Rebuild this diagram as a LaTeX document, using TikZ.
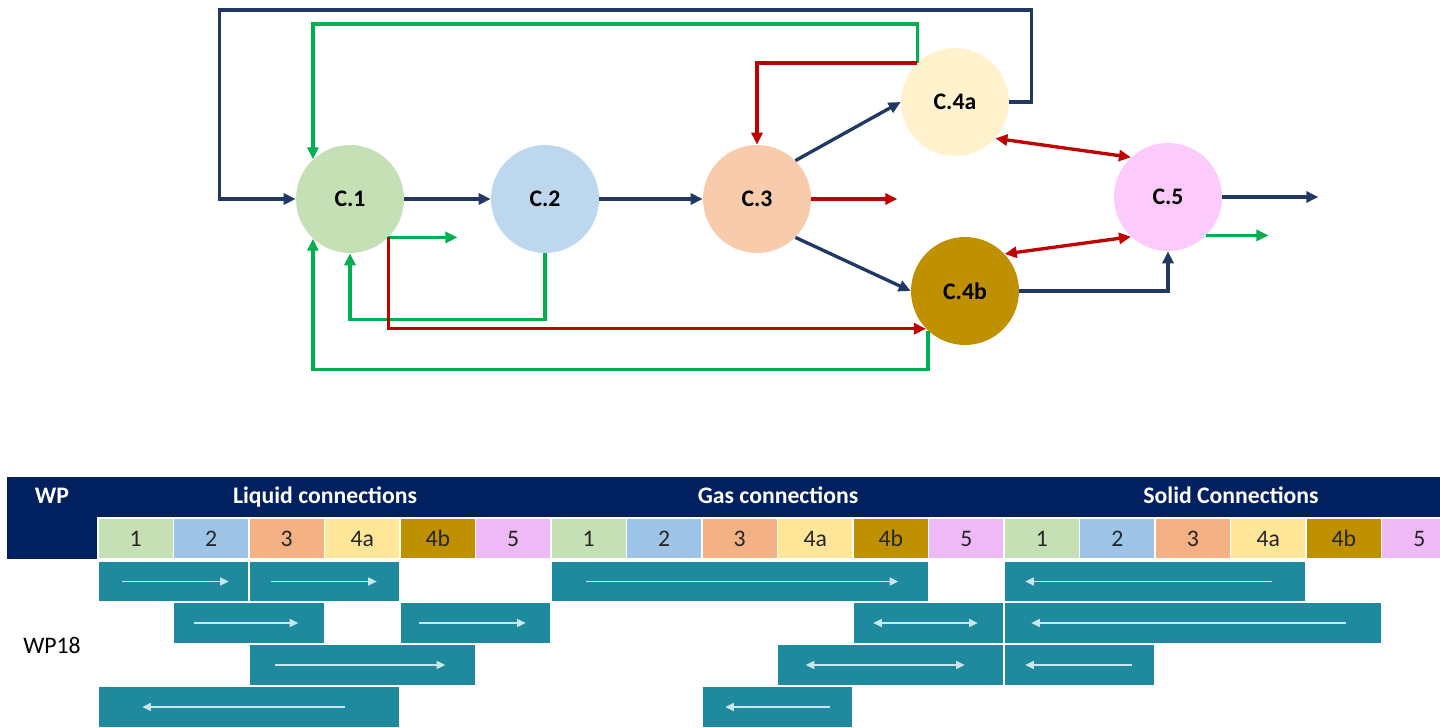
\documentclass[tikz,border=0pt]{standalone}
\usepackage{fontspec}
\setmainfont{Carlito}
\usepackage{xcolor}
\usetikzlibrary{positioning,arrows.meta,fit,calc}

\definecolor{flownavy}{HTML}{1F3864}
\definecolor{flowred}{HTML}{C00000}
\definecolor{flowgreen}{HTML}{00B050}
\definecolor{hdrnavy}{HTML}{002060}
\definecolor{cone}{HTML}{C5E0B4}
\definecolor{ctwo}{HTML}{BDD7EE}
\definecolor{cthree}{HTML}{F8CBAD}
\definecolor{cfoura}{HTML}{FFF2CC}
\definecolor{cfourb}{HTML}{BF9000}
\definecolor{cfive}{HTML}{FCCBFC}
\definecolor{tone}{HTML}{C5E0B4}
\definecolor{ttwo}{HTML}{9DC3E6}
\definecolor{tthree}{HTML}{F4B183}
\definecolor{tfoura}{HTML}{FFE699}
\definecolor{tfourb}{HTML}{BF9000}
\definecolor{tfive}{HTML}{EFB8F7}
\definecolor{barteal}{HTML}{1F8A9E}
\definecolor{barline}{HTML}{C9E6EC}

\begin{document}
\begin{tikzpicture}[
  x=0.02cm, y=-0.02cm,
  stage/.style={circle, minimum size=2.16cm, inner sep=0pt, font=\bfseries\fontsize{13.5}{16}\selectfont},
  flow/.style={line width=1.9pt, >={Triangle[length=2.4mm,width=2.2mm]}},
  nflow/.style={flow, draw=flownavy, ->},
  rflow/.style={flow, draw=flowred, ->},
  gflow/.style={flow, draw=flowgreen, ->},
  hdrbar/.style={fill=hdrnavy, inner sep=0pt},
  hdrtext/.style={text=white, text height=0.72em, text depth=0.22em, font=\bfseries\fontsize{13.5}{16}\selectfont},
  cellbox/.style={draw=white, line width=0.8pt, minimum width=1.51cm, minimum height=0.82cm, inner sep=0pt, text=black!85, font=\fontsize{13.5}{16}\selectfont},
  wpbar/.style={fill=barteal, draw=white, line width=0.8pt, inner sep=0pt},
  barrow/.style={draw=barline, line width=0.7pt, >={Triangle[length=1.7mm,width=1.6mm]}}
]
\useasboundingbox (0,0) rectangle (1440,727);
\clip (0,0) rectangle (1440,727);

% Etapas del proceso
\node[stage, fill=cone]   (c1)  at (350,199)  {C.1};
\node[stage, fill=ctwo]   (c2)  at (545,199)  {C.2};
\node[stage, fill=cthree] (c3)  at (757,199)  {C.3};
\node[stage, fill=cfoura] (c4a) at (955,102)  {C.4a};
\node[stage, fill=cfourb] (c4b) at (965,291)  {C.4b};
\node[stage, fill=cfive]  (c5)  at (1168,197) {C.5};

% Flujo principal (azul)
\draw[nflow] (c4a.east) -- ++(22,0) |- ($(c1.west)+(-76,-189)$) |- (c1.west);
\draw[nflow] (c1) -- (c2);
\draw[nflow] (c2) -- (c3);
\draw[nflow] (c3.45) -- (c4a.west);
\draw[nflow] (c3.-45) -- (c4b.west);
\draw[nflow] (c4b.east) -| (c5.south);
\draw[nflow] (c5.east) -- ++(96,0);

% Retornos (verde)
\draw[gflow] (c4a.134) -- ++(0,-39) -| (c1.133);
\draw[gflow] (c1.-45) -- ++(69,0);
\draw[gflow] (c2.south) -- ++(0,66) -| (c1.south);
\draw[gflow] (c4b.227) -- ++(0,39) -| (c1.227);
\draw[gflow] (c5.-45) -- ++(62,0);

% Intercambios (rojo)
\draw[rflow] (c4a.134) -| (c3.north);
\draw[rflow] (c1.-45) |- (c4b.224);
\draw[rflow] (c3.east) -- ++(86,0);
\draw[rflow, <->] (c4a.-42) -- (c5.133);
\draw[rflow, <->] (c4b.43) -- (c5.227);

% Cabecera de la tabla
\node[hdrbar, fit={(7,477)(1440,518)}] (hdr) {};
\node[hdrbar, fit={(7,518)(98,559)}] (wpcell) {};
\node[hdrtext] (wp)  at (52,499)   {WP};
\node[hdrtext] (liq) at (325,499)  {Liquid connections};
\node[hdrtext] (gas) at (778,499)  {Gas connections};
\node[hdrtext] (sol) at (1231,499) {Solid Connections};
\foreach \blk in {0,1,2}{
  \foreach \lab/\col [count=\i from 0] in {1/tone,2/ttwo,3/tthree,4a/tfoura,4b/tfourb,5/tfive}{
    \node[cellbox, fill=\col] (cell-\blk-\i) at ({98+75.5*(6*\blk+\i)+37.75},538.5) {\lab};
  }
}
\node[font=\fontsize{13.5}{16}\selectfont] (wp18) at (52,645) {WP18};

% Barras WP18
\node[wpbar, fit={(98,561)(249,602)}]     (ra1) {};
\node[wpbar, fit={(249,561)(400,602)}]    (ra2) {};
\node[wpbar, fit={(551,561)(928.5,602)}]  (ra3) {};
\node[wpbar, fit={(1004,561)(1306,602)}]  (ra4) {};
\node[wpbar, fit={(173.5,602)(324.5,644)}] (rb1) {};
\node[wpbar, fit={(400,602)(551,644)}]    (rb2) {};
\node[wpbar, fit={(853,602)(1004,644)}]   (rb3) {};
\node[wpbar, fit={(1004,602)(1381.5,644)}] (rb4) {};
\node[wpbar, fit={(249,644)(475.5,686)}]  (rc1) {};
\node[wpbar, fit={(777.5,644)(1004,686)}] (rc2) {};
\node[wpbar, fit={(1004,644)(1155,686)}]  (rc3) {};
\node[wpbar, fit={(98,686)(400,728)}]     (rd1) {};
\node[wpbar, fit={(702,686)(853,728)}]    (rd2) {};

\draw[barrow, ->]  ($(ra1.west)+(25,0)$) -- ($(ra1.east)+(-21,0)$);
\draw[barrow, ->]  ($(ra2.west)+(23,0)$) -- ($(ra2.east)+(-24,0)$);
\draw[barrow, ->]  ($(ra3.west)+(36,0)$) -- ($(ra3.east)+(-31,0)$);
\draw[barrow, <-]  ($(ra4.west)+(22,0)$) -- ($(ra4.east)+(-35,0)$);
\draw[barrow, ->]  ($(rb1.west)+(21,0)$) -- ($(rb1.east)+(-27,0)$);
\draw[barrow, ->]  ($(rb2.west)+(20,0)$) -- ($(rb2.east)+(-26,0)$);
\draw[barrow, <->] ($(rb3.west)+(21,0)$) -- ($(rb3.east)+(-27,0)$);
\draw[barrow, <-]  ($(rb4.west)+(28,0)$) -- ($(rb4.east)+(-36,0)$);
\draw[barrow, ->]  ($(rc1.west)+(27,0)$) -- ($(rc1.east)+(-31,0)$);
\draw[barrow, <->] ($(rc2.west)+(29,0)$) -- ($(rc2.east)+(-40,0)$);
\draw[barrow, <-]  ($(rc3.west)+(22,0)$) -- ($(rc3.east)+(-24,0)$);
\draw[barrow, <-]  ($(rd1.west)+(45,0)$) -- ($(rd1.east)+(-56,0)$);
\draw[barrow, <-]  ($(rd2.west)+(24,0)$) -- ($(rd2.east)+(-24,0)$);
\end{tikzpicture}
\end{document}
